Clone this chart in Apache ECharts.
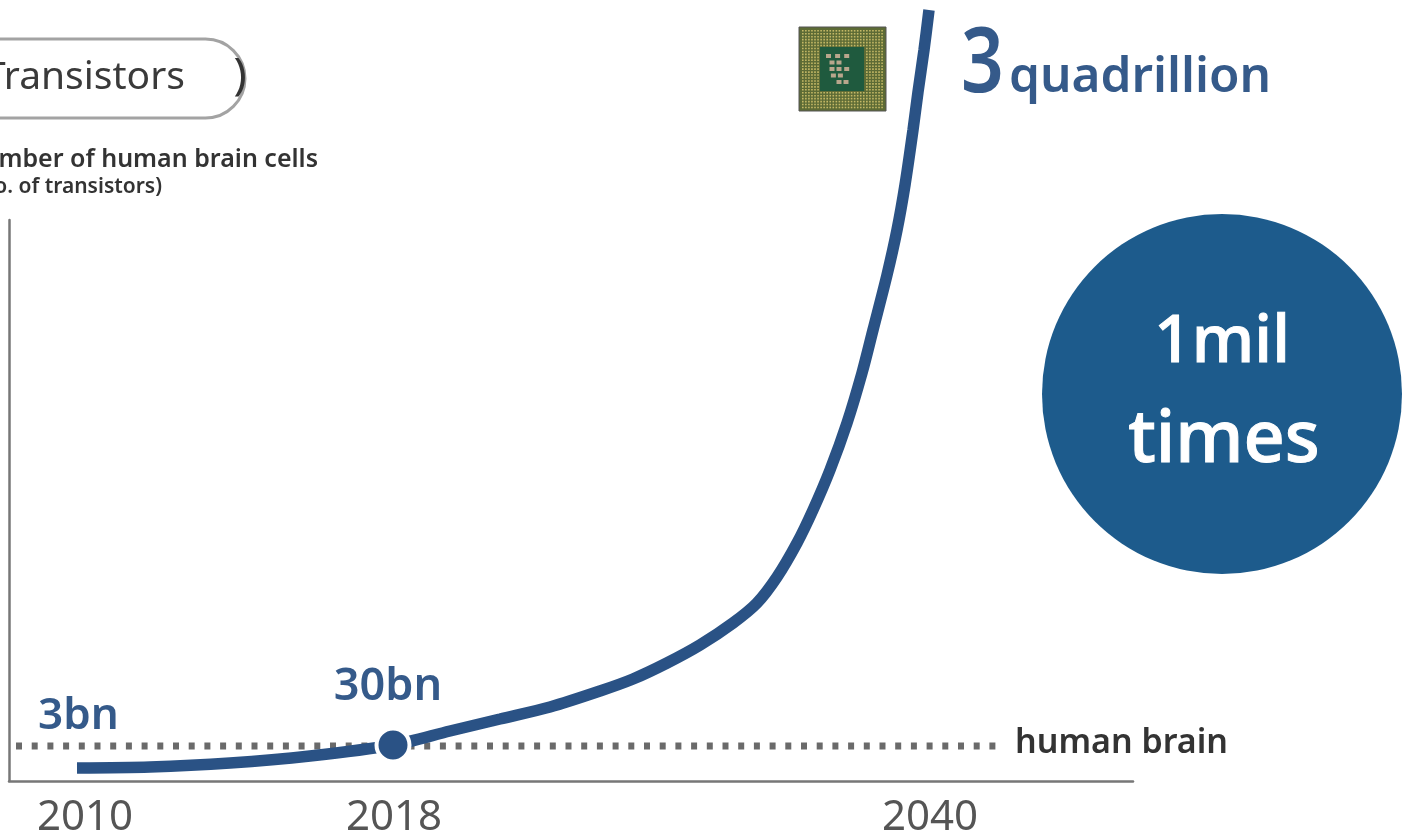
<!DOCTYPE html>
<html><head><meta charset="utf-8">
<style>html,body{margin:0;padding:0;background:#fff}#c{width:1413px;height:839px}</style>
<script src="https://cdn.jsdelivr.net/npm/echarts@6/dist/echarts.min.js"></script>
</head><body><div id="c"></div>
<script>
// x = position along the (non-uniform) time axis, y = relative height above baseline
const yearTicks = [76, 385, 921];
const yearLabels = ['2010', '2018', '2040'];
const curveX = [68, 141, 221, 301, 384, 441, 491, 541, 591, 624, 658, 691, 724, 748, 768, 788, 804, 821, 838, 853, 864, 878, 888, 896, 904, 909, 915, 920];
const curveY = [13, 14, 18, 25, 36, 50, 62, 74, 90, 102, 118, 136, 158, 178, 204, 238, 271, 311, 358, 408, 451, 506, 551, 596, 651, 689, 731, 771];
const brainX = [7, 992];
const brainY = [35, 35];
const pointX = [68, 384];
const pointY = [13, 36];
const pointLabels = ['3bn', '30bn'];
const endValueLabel = ['3', 'quadrillion'];

const FONT = '"Noto Sans"', NAVY = '#2a5285', TXT = '#355a8a';
const chart = echarts.init(document.getElementById('c'));

const chipDots = [];
for (let i = 0; i < 27; i++) for (let j = 0; j < 27; j++) {
  const inCore = i > 5 && i < 21 && j > 5 && j < 21;
  if (inCore) continue;
  chipDots.push({type:'rect', shape:{x:802 + i*3.05, y:30 + j*2.95, width:1.6, height:1.6},
    style:{fill:'#c4b866'}, silent:true, z:21});
}
const coreDots = [];
[[0,0],[1.3,0],[2.6,0],[0.5,1],[1.5,1],[0.5,2],[1.5,2],[2.6,2],[0.7,3],[1.7,3],[1.5,4],[2.5,4]].forEach(p => {
  coreDots.push({type:'rect', shape:{x:826 + p[0]*7, y:54 + p[1]*6.5, width:5, height:4},
    style:{fill:'#b9a68c'}, silent:true, z:23});
});

chart.setOption({
  backgroundColor:'#fff',
  animation:false,
  grid:{left:9, right:280, top:220, bottom:58, containLabel:false},
  xAxis:{type:'value', min:0, max:1124,
    axisLine:{show:true, onZero:false, lineStyle:{color:'#777', width:2.5}},
    axisTick:{show:false}, splitLine:{show:false},
    axisLabel:{show:true, customValues:yearTicks, margin:16, fontFamily:FONT, fontSize:42, color:'#555',
      formatter:v => yearLabels[yearTicks.indexOf(v)], hideOverlap:false, showMinLabel:true, showMaxLabel:true}},
  yAxis:{type:'value', min:0, max:561,
    axisLine:{show:true, lineStyle:{color:'#777', width:2.5}},
    axisTick:{show:false}, splitLine:{show:false}, axisLabel:{show:false}},
  series:[
    {type:'line', name:'human brain', data:brainX.map((x,i)=>[x,brainY[i]]), symbol:'none', silent:true, z:2,
      lineStyle:{color:'#6a6a6a', width:7, type:[6,9.7]},
      endLabel:{show:true, formatter:'human brain', distance:14, offset:[0,-3], fontFamily:FONT, fontSize:34, fontWeight:600, color:'#333'}},
    {type:'line', name:'Transistors', data:curveX.map((x,i)=>[x,curveY[i]]), smooth:0.3, symbol:'none', clip:false, silent:true, z:3,
      lineStyle:{color:NAVY, width:11.5, cap:'butt'}},
    {type:'scatter', name:'points', clip:false, silent:true, z:4,
      data:pointX.map((x,i)=>({value:[x,pointY[i]],
        symbolSize:i===1?33:0.01,
        itemStyle:{opacity:1, color:i===1?NAVY:'transparent', borderColor:i===1?'#fff':'transparent', borderWidth:i===1?4:0},
        label:{show:true, opacity:1, formatter:pointLabels[i], position:'top', fontSize:i===1?45:44, distance:i===1?17:30, offset:i===1?[-5,0]:[1.5,0]}})),
      label:{fontFamily:FONT, fontWeight:600, color:TXT}}
  ],
  graphic:[
    {type:'rect', shape:{x:-60, y:39, width:305, height:79, r:40}, style:{fill:'#fff', stroke:'#a3a3a3', lineWidth:3}, silent:true, z:1},
    {type:'text', x:185, y:78, style:{text:'Transistors', font:'39px '+FONT, fill:'#3a3a3a', textAlign:'right', textVerticalAlign:'middle'}, silent:true, z:10},
    {type:'text', x:240, y:76, style:{text:')', font:'44px '+FONT, fill:'#333', textAlign:'center', textVerticalAlign:'middle'}, silent:true, z:10},
    {type:'text', x:318, y:160, style:{text:'Number of human brain cells', font:'600 25px '+FONT, fill:'#333', textAlign:'right', textVerticalAlign:'middle'}, silent:true, z:10},
    {type:'text', x:162, y:187, style:{text:'(No. of transistors)', font:'600 21px '+FONT, fill:'#333', textAlign:'right', textVerticalAlign:'middle'}, silent:true, z:10},
    {type:'circle', shape:{cx:1222, cy:394, r:180}, style:{fill:'#1d5b8c'}, silent:true, z:5},
    {type:'text', x:1222, y:343, style:{text:'1mil', font:'500 66px '+FONT, fill:'#fff', stroke:'#fff', lineWidth:1, textAlign:'center', textVerticalAlign:'middle'}, silent:true, z:6},
    {type:'text', x:1224, y:441, style:{text:'times', font:'500 72px '+FONT, fill:'#fff', stroke:'#fff', lineWidth:1, textAlign:'center', textVerticalAlign:'middle'}, silent:true, z:6},
    {type:'text', x:961, y:66, scaleX:0.83, style:{text:endValueLabel[0], font:'600 90px '+FONT, fill:TXT, textAlign:'left', textVerticalAlign:'middle'}, silent:true, z:10},
    {type:'text', x:1009, y:78, style:{text:endValueLabel[1], font:'600 49.5px '+FONT, fill:TXT, textAlign:'left', textVerticalAlign:'middle'}, silent:true, z:10},
    {type:'rect', shape:{x:799, y:27, width:87, height:84}, style:{fill:'#5d6b35', stroke:'#555', lineWidth:1}, silent:true, z:20},
    {type:'group', children:chipDots},
    {type:'rect', shape:{x:820, y:47, width:44, height:44}, style:{fill:'#1f5a3e'}, silent:true, z:22},
    {type:'group', children:coreDots}
  ]
});
</script></body></html>
